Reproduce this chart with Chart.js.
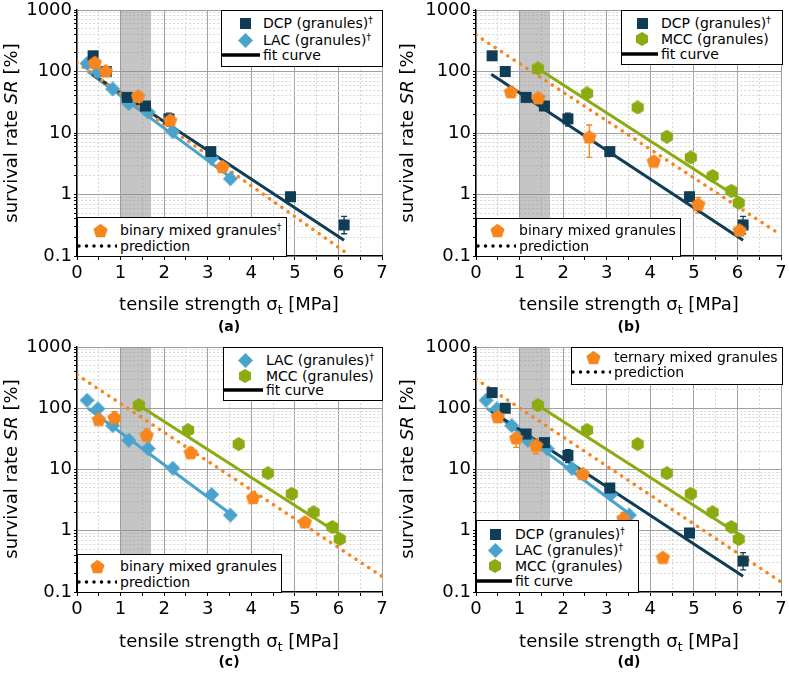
<!DOCTYPE html>
<html>
<head>
<meta charset="utf-8">
<script src="https://cdn.jsdelivr.net/npm/chart.js@4.4.0/dist/chart.umd.min.js"></script>
<style>
body { margin: 0; background: #fff; }
#page { position: relative; width: 789px; height: 673px; overflow: hidden; font-family: 'DejaVu Sans', sans-serif; color: #000; }
canvas.plot { position: absolute; }
.ytitle { position: absolute; font-size: 18px; white-space: nowrap; transform: translate(-50%, -50%) rotate(-90deg); }
.xtitle { position: absolute; font-size: 18px; white-space: nowrap; transform: translate(-50%, -50%); }
.xtitle sub { font-size: 12px; vertical-align: -4px; line-height: 0; }
.tag { position: absolute; font-size: 14px; font-weight: bold; transform: translate(-50%, -50%); }
.legend { position: absolute; border: 1px solid #000; background: #fff; box-sizing: border-box; font-size: 14px; }
.legend .row { position: absolute; white-space: nowrap; line-height: 16px; }
.legend sup { font-size: 9px; vertical-align: 5px; line-height: 0; }
.legend canvas, .legend svg { position: absolute; }
</style>
</head>
<body>
<div id="page">
  <canvas id="ca" class="plot" width="395" height="300" style="left:0;top:0"></canvas>
  <canvas id="cb" class="plot" width="394" height="300" style="left:395px;top:0"></canvas>
  <canvas id="cc" class="plot" width="395" height="300" style="left:0;top:335px"></canvas>
  <canvas id="cd" class="plot" width="394" height="300" style="left:395px;top:335px"></canvas>
</div>
<script>
// ---- data ----
const bandX = [1, 1.7];

const dcpX = [0.37, 0.67, 1.15, 1.57, 2.11, 3.07, 4.90, 6.13];
const dcpY = [180, 100, 38, 27.5, 17, 5.0, 0.92, 0.32];
const dcpLo = [0, 0, 0, 0, 13, 4.4, 0.8, 0.23];
const dcpHi = [0, 0, 0, 0, 21, 5.6, 1.08, 0.44];
const dcpFitX = [0.35, 6.13];
const dcpFitY = [90, 0.18];

const lacX = [0.23, 0.48, 0.82, 1.19, 1.63, 2.2, 3.09, 3.52];
const lacY = [135, 98, 52, 30, 22, 10.5, 3.9, 1.8];
const lacFitX = [0.25, 3.52];
const lacFitY = [100, 1.9];

const mccX = [1.42, 2.55, 3.71, 4.38, 4.93, 5.43, 5.86, 6.03];
const mccY = [112, 44, 26, 8.7, 4.0, 2.0, 1.15, 0.73];
const mccLo = [0, 0, 22, 0, 3.5, 0, 0, 0];
const mccHi = [0, 0, 30, 0, 4.5, 0, 0, 0];
const mccFitX = [1.42, 6.03];
const mccFitY = [112, 0.88];

// (a) binary mixed granules DCP + LAC
const binAX = [0.41, 0.66, 1.4, 2.14, 3.34];
const binAY = [141, 103, 40, 16.3, 2.85];
const binALo = [0, 0, 0, 13, 0];
const binAHi = [0, 0, 0, 19, 0];
const predAX = [0, 6.2];
const predAY = [139, 0.11];

// (b) binary mixed granules DCP + MCC
const binBX = [0.8, 1.43, 2.6, 4.08, 5.1, 6.05];
const binBY = [47, 37.6, 8.7, 3.5, 0.70, 0.265];
const binBLo = [38, 0, 4, 3.0, 0.5, 0.22];
const binBHi = [56, 0, 13.5, 4.0, 0.9, 0.3];
const predBX = [0, 7];
const predBY = [392, 0.22];

// (c) binary mixed granules LAC + MCC
const binCX = [0.5, 0.86, 1.6, 2.61, 4.04, 5.23];
const binCY = [66, 71, 36.7, 19.1, 3.5, 1.4];
const binCLo = [55, 52, 29, 15, 3.0, 1.2];
const binCHi = [78, 88, 46, 23, 4.2, 1.6];
const predCX = [0, 7];
const predCY = [352, 0.18];

// (d) ternary mixed granules
const terX = [0.5, 0.92, 1.38, 2.45, 3.38, 4.29];
const terY = [73, 33, 25, 8.6, 1.6, 0.37];
const terLo = [0, 23, 18, 0, 1.3, 0];
const terHi = [0, 43, 32, 0, 2.0, 0];
const predDX = [0, 7];
const predDY = [300, 0.146];

const yMajors = [0.1, 1, 10, 100, 1000];
const xLabels = [0, 1, 2, 3, 4, 5, 6, 7];

const ORANGE = '#f7861e', NAVY = '#0f3d56', BLUE = '#4aa3cc', GREEN = '#8bab10';

Chart.defaults.font.family = "'DejaVu Sans', sans-serif";
Chart.defaults.font.size = 18;
Chart.defaults.color = '#000';

function shape(kind, color, size) {
    const c = document.createElement('canvas');
    c.width = size; c.height = size;
    const g = c.getContext('2d');
    const r = size / 2;
    g.fillStyle = color;
    g.beginPath();
    if (kind === 'square') {
        g.rect(1, 1, size - 2, size - 2);
    } else {
        const n = kind === 'diamond' ? 4 : kind === 'pentagon' ? 5 : 6;
        const dy = kind === 'pentagon' ? r * 0.1 : 0;
        for (let i = 0; i < n; i++) {
            const a = -Math.PI / 2 + i * 2 * Math.PI / n;
            g.lineTo(r + r * Math.cos(a), r + dy + r * Math.sin(a));
        }
    }
    g.closePath();
    g.fill();
    return c;
}

const SIZES = { square: 13, diamond: 15, pentagon: 15, hexagon: 14 };

function pts(xs, ys) { return xs.map((x, i) => ({ x: x, y: ys[i] })); }

function markers(xs, ys, kind, color, order, lo, hi) {
    return {
        data: pts(xs, ys), pointStyle: shape(kind, color, SIZES[kind]), pointRadius: 7,
        showLine: false, order: order, borderColor: color, backgroundColor: color,
        errLo: lo, errHi: hi
    };
}
function fitLine(xs, ys, color) {
    return { data: pts(xs, ys), showLine: true, pointRadius: 0, borderColor: color, borderWidth: 3, order: 5 };
}
function predLine(xs, ys) {
    return {
        data: pts(xs, ys), showLine: true, pointRadius: 0, borderColor: ORANGE, borderWidth: 3.5,
        borderDash: [0.1, 7.5], borderCapStyle: 'round', order: 4
    };
}

// shaded band + error bars, under the markers
const extras = {
    id: 'extras',
    beforeDatasetsDraw(chart) {
        const { ctx, chartArea: a, scales: { x, y } } = chart;
        ctx.save();
        ctx.fillStyle = 'rgba(140,140,140,0.5)';
        const x1 = x.getPixelForValue(bandX[0]), x2 = x.getPixelForValue(bandX[1]);
        ctx.fillRect(x1, a.top, x2 - x1, a.bottom - a.top);
        chart.data.datasets.forEach(ds => {
            if (!ds.errLo) return;
            ctx.strokeStyle = ds.borderColor;
            ctx.lineWidth = 1.3;
            ds.data.forEach((p, i) => {
                if (!ds.errLo[i]) return;
                const px = x.getPixelForValue(p.x);
                const y1 = y.getPixelForValue(ds.errLo[i]), y2 = y.getPixelForValue(ds.errHi[i]);
                ctx.beginPath();
                ctx.moveTo(px, y1); ctx.lineTo(px, y2);
                ctx.moveTo(px - 3, y1); ctx.lineTo(px + 3, y1);
                ctx.moveTo(px - 3, y2); ctx.lineTo(px + 3, y2);
                ctx.stroke();
            });
        });
        ctx.restore();
    }
};

const isMajorY = v => yMajors.some(m => Math.abs(v / m - 1) < 1e-6);
const isMajorX = v => xLabels.includes(v);

function makeScales(yWidth, xHeight) {
    return {
        x: {
            type: 'linear', min: 0, max: 7,
            ticks: {
                stepSize: 0.5, autoSkip: false, maxRotation: 0, padding: 3,
                callback: v => isMajorX(v) ? String(v) : ''
            },
            grid: {
                color: c => c.tick && isMajorX(c.tick.value) ? '#a0a0a0' : '#d6d6d6',
                tickLength: 4, tickColor: '#000'
            },
            border: { color: '#000', width: 1.3, dash: c => (c.tick && !isMajorX(c.tick.value)) ? [2, 2] : [] },
            afterFit: s => { s.height = xHeight; s.paddingLeft = 0; s.paddingRight = 0; }
        },
        y: {
            type: 'logarithmic', min: 0.1, max: 1000,
            afterBuildTicks: s => {
                const t = [];
                for (let e = -1; e <= 2; e++) {
                    for (let m = 1; m <= 9; m++) t.push({ value: m * Math.pow(10, e) });
                }
                t.push({ value: 1000 });
                s.ticks = t;
            },
            ticks: {
                autoSkip: false, padding: 2,
                callback: v => isMajorY(v) ? (v < 1 ? '0.1' : String(Math.round(v))) : ''
            },
            grid: {
                color: c => c.tick && isMajorY(c.tick.value) ? '#a0a0a0' : '#d6d6d6',
                tickLength: 3, tickColor: '#000'
            },
            border: { color: '#000', width: 1.3, dash: c => (c.tick && !isMajorY(c.tick.value)) ? [2, 2] : [] },
            afterFit: s => { s.width = yWidth; s.paddingTop = 0; s.paddingBottom = 0; }
        }
    };
}

function makeChart(id, datasets, pad, yWidth, xHeight) {
    return new Chart(document.getElementById(id), {
        type: 'scatter',
        data: { datasets: datasets },
        options: {
            responsive: false, animation: false, events: [],
            layout: { padding: pad },
            plugins: { legend: { display: false }, tooltip: { enabled: false } },
            scales: makeScales(yWidth, xHeight)
        },
        plugins: [extras]
    });
}

makeChart('ca', [
    fitLine(dcpFitX, dcpFitY, NAVY), fitLine(lacFitX, lacFitY, BLUE), predLine(predAX, predAY),
    markers(lacX, lacY, 'diamond', BLUE, 2), markers(dcpX, dcpY, 'square', NAVY, 1, dcpLo, dcpHi),
    markers(binAX, binAY, 'pentagon', ORANGE, 0, binALo, binAHi)
], { top: 10, right: 13, left: 0, bottom: 0 }, 77, 44);

makeChart('cb', [
    fitLine(dcpFitX, dcpFitY, NAVY), fitLine(mccFitX, mccFitY, GREEN), predLine(predBX, predBY),
    markers(mccX, mccY, 'hexagon', GREEN, 2, mccLo, mccHi), markers(dcpX, dcpY, 'square', NAVY, 1, dcpLo, dcpHi),
    markers(binBX, binBY, 'pentagon', ORANGE, 0, binBLo, binBHi)
], { top: 10, right: 7, left: 0, bottom: 0 }, 81, 44);

makeChart('cc', [
    fitLine(lacFitX, lacFitY, BLUE), fitLine(mccFitX, mccFitY, GREEN), predLine(predCX, predCY),
    markers(mccX, mccY, 'hexagon', GREEN, 2, mccLo, mccHi), markers(lacX, lacY, 'diamond', BLUE, 1),
    markers(binCX, binCY, 'pentagon', ORANGE, 0, binCLo, binCHi)
], { top: 12, right: 13, left: 0, bottom: 0 }, 77, 43);

makeChart('cd', [
    fitLine(dcpFitX, dcpFitY, NAVY), fitLine(lacFitX, lacFitY, BLUE), fitLine(mccFitX, mccFitY, GREEN),
    predLine(predDX, predDY),
    markers(mccX, mccY, 'hexagon', GREEN, 3, mccLo, mccHi), markers(lacX, lacY, 'diamond', BLUE, 2),
    markers(dcpX, dcpY, 'square', NAVY, 1, dcpLo, dcpHi),
    markers(terX, terY, 'pentagon', ORANGE, 0, terLo, terHi)
], { top: 12, right: 7, left: 0, bottom: 0 }, 81, 43);

// ---- titles, tags and legends (HTML overlay) ----
const page = document.getElementById('page');

function addText(cls, html, x, y) {
    const d = document.createElement('div');
    d.className = cls;
    d.innerHTML = html;
    d.style.left = x + 'px';
    d.style.top = y + 'px';
    page.appendChild(d);
}

const yTitle = 'survival rate <i>SR</i> [%]';
const xTitle = 'tensile strength &sigma;<sub>t</sub> [MPa]';
[[10, 133, 229, 303, 326, '(a)'], [406, 133, 629, 303, 326, '(b)'],
 [10, 469, 229, 640, 661, '(c)'], [406, 469, 629, 640, 661, '(d)']].forEach(p => {
    addText('ytitle', yTitle, p[0], p[1]);
    addText('xtitle', xTitle, p[2], p[3]);
    addText('tag', p[5], p[2], p[4]);
});

function lineIcon(dotted, w) {
    const ns = 'http://www.w3.org/2000/svg';
    const s = document.createElementNS(ns, 'svg');
    s.setAttribute('width', w); s.setAttribute('height', 6);
    const l = document.createElementNS(ns, 'line');
    l.setAttribute('x1', dotted ? 2 : 0); l.setAttribute('x2', w); l.setAttribute('y1', 3); l.setAttribute('y2', 3);
    l.setAttribute('stroke', '#000');
    l.setAttribute('stroke-width', 3.5);
    if (dotted) { l.setAttribute('stroke-dasharray', '0 7.5'); l.setAttribute('stroke-linecap', 'round'); }
    s.appendChild(l);
    return s;
}

// rows: [icon, color, label, rowCenterY]; icon is a marker kind, 'fit' or 'pred'
function legendBox(l, t, r, b, mx, tx, rows) {
    const box = document.createElement('div');
    box.className = 'legend';
    Object.assign(box.style, { left: l + 'px', top: t + 'px', width: (r - l) + 'px', height: (b - t) + 'px' });
    rows.forEach(([icon, color, label, y]) => {
        if (icon === 'fit' || icon === 'pred') {
            const s = lineIcon(icon === 'pred', tx - l - 3);
            s.style.left = '-1px';
            s.style.top = (y - t - 1 - 3) + 'px';
            box.appendChild(s);
        } else {
            const c = shape(icon, color, SIZES[icon]);
            c.style.left = (mx - l - 1 - SIZES[icon] / 2) + 'px';
            c.style.top = (y - t - 1 - SIZES[icon] / 2) + 'px';
            box.appendChild(c);
        }
        const d = document.createElement('div');
        d.className = 'row';
        d.innerHTML = label;
        d.style.left = (tx - l - 1) + 'px';
        d.style.top = (y - t - 1 - 8) + 'px';
        box.appendChild(d);
    });
    page.appendChild(box);
}

const dag = '<sup>&dagger;</sup>';
legendBox(221, 10, 383, 67, 245, 263, [
    ['square', NAVY, 'DCP (granules)' + dag, 23],
    ['diamond', BLUE, 'LAC (granules)' + dag, 40],
    ['fit', '#000', 'fit curve', 55]
]);
legendBox(77, 217, 287, 257, 100, 120, [
    ['pentagon', ORANGE, 'binary mixed granules' + dag, 230],
    ['pred', '#000', 'prediction', 246]
]);
legendBox(621, 10, 783, 65, 642, 661, [
    ['square', NAVY, 'DCP (granules)' + dag, 23],
    ['hexagon', GREEN, 'MCC (granules)', 39],
    ['fit', '#000', 'fit curve', 54]
]);
legendBox(476, 218, 681, 257, 497, 519, [
    ['pentagon', ORANGE, 'binary mixed granules', 230],
    ['pred', '#000', 'prediction', 246]
]);
legendBox(223, 347, 383, 401, 245, 266, [
    ['diamond', BLUE, 'LAC (granules)' + dag, 360],
    ['hexagon', GREEN, 'MCC (granules)', 376],
    ['fit', '#000', 'fit curve', 390]
]);
legendBox(77, 554, 282, 593, 97, 120, [
    ['pentagon', ORANGE, 'binary mixed granules', 566],
    ['pred', '#000', 'prediction', 582]
]);
legendBox(571, 347, 783, 385, 593, 614, [
    ['pentagon', ORANGE, 'ternary mixed granules', 357],
    ['pred', '#000', 'prediction', 372]
]);
legendBox(476, 520, 639, 593, 495, 515, [
    ['square', NAVY, 'DCP (granules)' + dag, 534],
    ['diamond', BLUE, 'LAC (granules)' + dag, 550],
    ['hexagon', GREEN, 'MCC (granules)', 566],
    ['fit', '#000', 'fit curve', 581]
]);
</script>
</body>
</html>
